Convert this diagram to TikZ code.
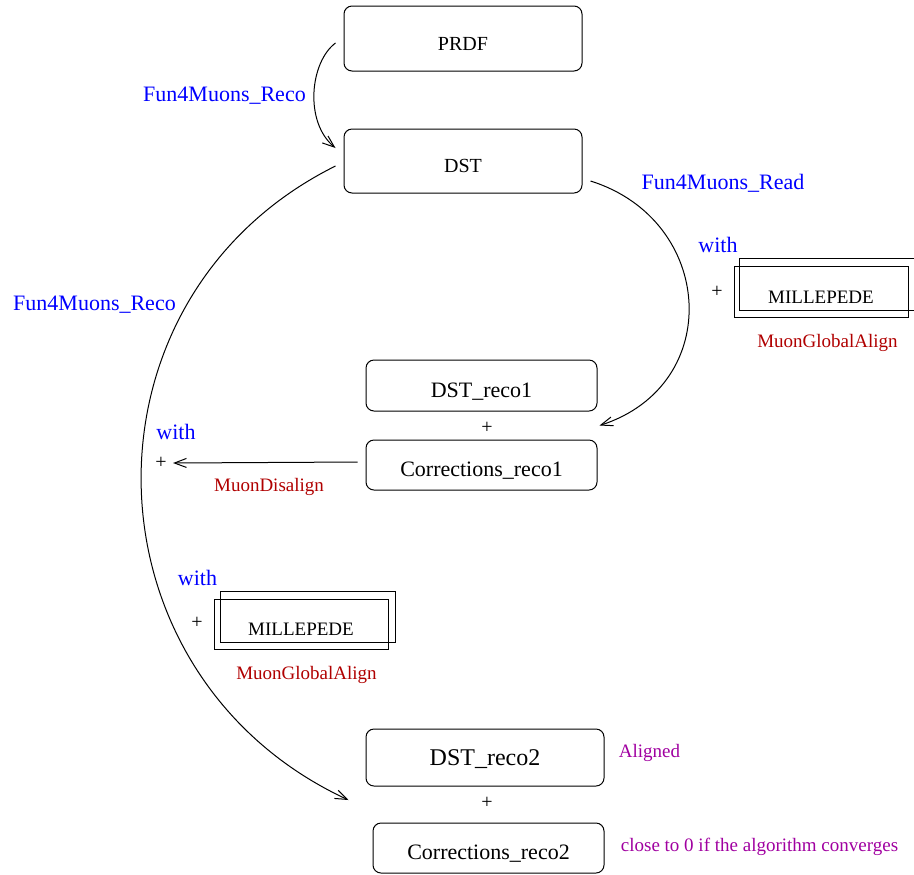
\documentclass[tikz,border=0pt]{standalone}
\usepackage{fontspec}
\setmainfont{Liberation Serif}
\usetikzlibrary{arrows.meta}
\definecolor{mgBlue}{HTML}{0000FF}
\definecolor{mgRed}{HTML}{B00000}
\definecolor{mgPurple}{HTML}{A000A0}
\tikzset{
  mg file/.style={
    draw, line width=.5pt, rounded corners=4pt, inner sep=0pt,
    minimum width=115.5pt, minimum height=25pt,
    text height=11.5pt, text depth=0pt,
    font=\fontsize{11}{13}\selectfont
  },
  mg tool/.style={
    draw, line width=.5pt, inner sep=0pt,
    minimum width=87pt, minimum height=25.5pt,
    text height=11.5pt, text depth=0pt,
    font=\fontsize{9.5}{11}\selectfont
  },
  mg flow/.style={
    draw, line width=.5pt,
    -{Straight Barb[length=6pt,width=4.5pt]}
  },
  mg step/.style={anchor=base, inner sep=0pt, text=mgBlue, font=\fontsize{11}{13}\selectfont},
  mg module/.style={anchor=base, inner sep=0pt, text=mgRed, font=\fontsize{9.5}{11}\selectfont},
  mg note/.style={anchor=base, inner sep=0pt, text=mgPurple, font=\fontsize{9.5}{11}\selectfont},
  mg plus/.style={inner sep=0pt, font=\fontsize{10}{12}\selectfont}
}
\begin{document}
\begin{tikzpicture}[x=.5pt,y=-.5pt]
  \useasboundingbox (0,0) rectangle (914,874);

  % data files
  \node[mg file, minimum width=119pt, minimum height=32.5pt,
    font=\fontsize{10}{12}\selectfont] (prdf) at (463,38.5) {PRDF};
  \node[mg file, minimum width=119pt, minimum height=32pt,
    font=\fontsize{10}{12}\selectfont] (dst) at (463,161) {DST};
  \node[mg file, minimum height=25.5pt] (reco1) at (481.5,385.5) {DST\_reco1};
  \node[mg file] (corr1) at (481.5,465) {Corrections\_reco1};
  \node[mg file, minimum width=119pt, minimum height=28.5pt, text height=8pt,
    font=\fontsize{12}{14}\selectfont] (reco2) at (485,757.5) {DST\_reco2};
  \node[mg file] (corr2) at (488.5,848) {Corrections\_reco2};
  \node[mg plus] (plus1) at (487,428) {+};
  \node[mg plus] (plus2) at (487,803) {+};

  % alignment tools
  \node[mg tool] (millR) at (821,291.5) {MILLEPEDE};
  \draw[line width=.5pt] ([xshift=3pt,yshift=3.5pt]millR.south west)
    rectangle ([xshift=3pt,yshift=3.5pt]millR.north east);
  \node[mg plus] (plusR) at (717,292) {+};
  \node[mg tool, minimum height=25pt] (millL) at (301,624) {MILLEPEDE};
  \draw[line width=.5pt] ([xshift=3.5pt,yshift=3.5pt]millL.south west)
    rectangle ([xshift=3.5pt,yshift=3.5pt]millL.north east);
  \node[mg plus] (plusM) at (197,623) {+};
  \node[mg plus] (plusL) at (161,463) {+};

  % steps
  \draw[mg flow] ([xshift=-4pt,yshift=-2.25pt]prdf.west)
    .. controls (310,62) and (304,122) .. ([xshift=-4pt,yshift=6.5pt]dst.west);
  \draw[mg flow] ([xshift=-4pt,yshift=-2.5pt]dst.west)
    .. controls (70,298) and (79,675) .. ([xshift=-8.5pt,yshift=-21.25pt]reco2.west);
  \draw[mg flow] ([xshift=4pt,yshift=-10pt]dst.east)
    .. controls (715,220) and (725,385) .. ([xshift=1pt,yshift=-7pt]reco1.south east);
  \draw[mg flow] ([xshift=-4pt,yshift=1.5pt]corr1.west) -- ([xshift=3pt]plusL.east);

  \node[mg step] (recoTop) at (224.5,101) {Fun4Muons\_Reco};
  \node[mg step] (recoLeft) at (94.5,310) {Fun4Muons\_Reco};
  \node[mg step] (read) at (723,189) {Fun4Muons\_Read};
  \node[mg step] (withR) at (718,252) {with};
  \node[mg step] (withL) at (176,439) {with};
  \node[mg step] (withM) at (197.5,585) {with};

  \node[mg module] (alignR) at (827.5,347) {MuonGlobalAlign};
  \node[mg module] (disalign) at (269,491) {MuonDisalign};
  \node[mg module] (alignL) at (306.5,679) {MuonGlobalAlign};

  \node[mg note] (aligned) at (649.5,757) {Aligned};
  \node[mg note] (converge) at (759.5,851) {close to 0 if the algorithm converges};
\end{tikzpicture}
\end{document}
